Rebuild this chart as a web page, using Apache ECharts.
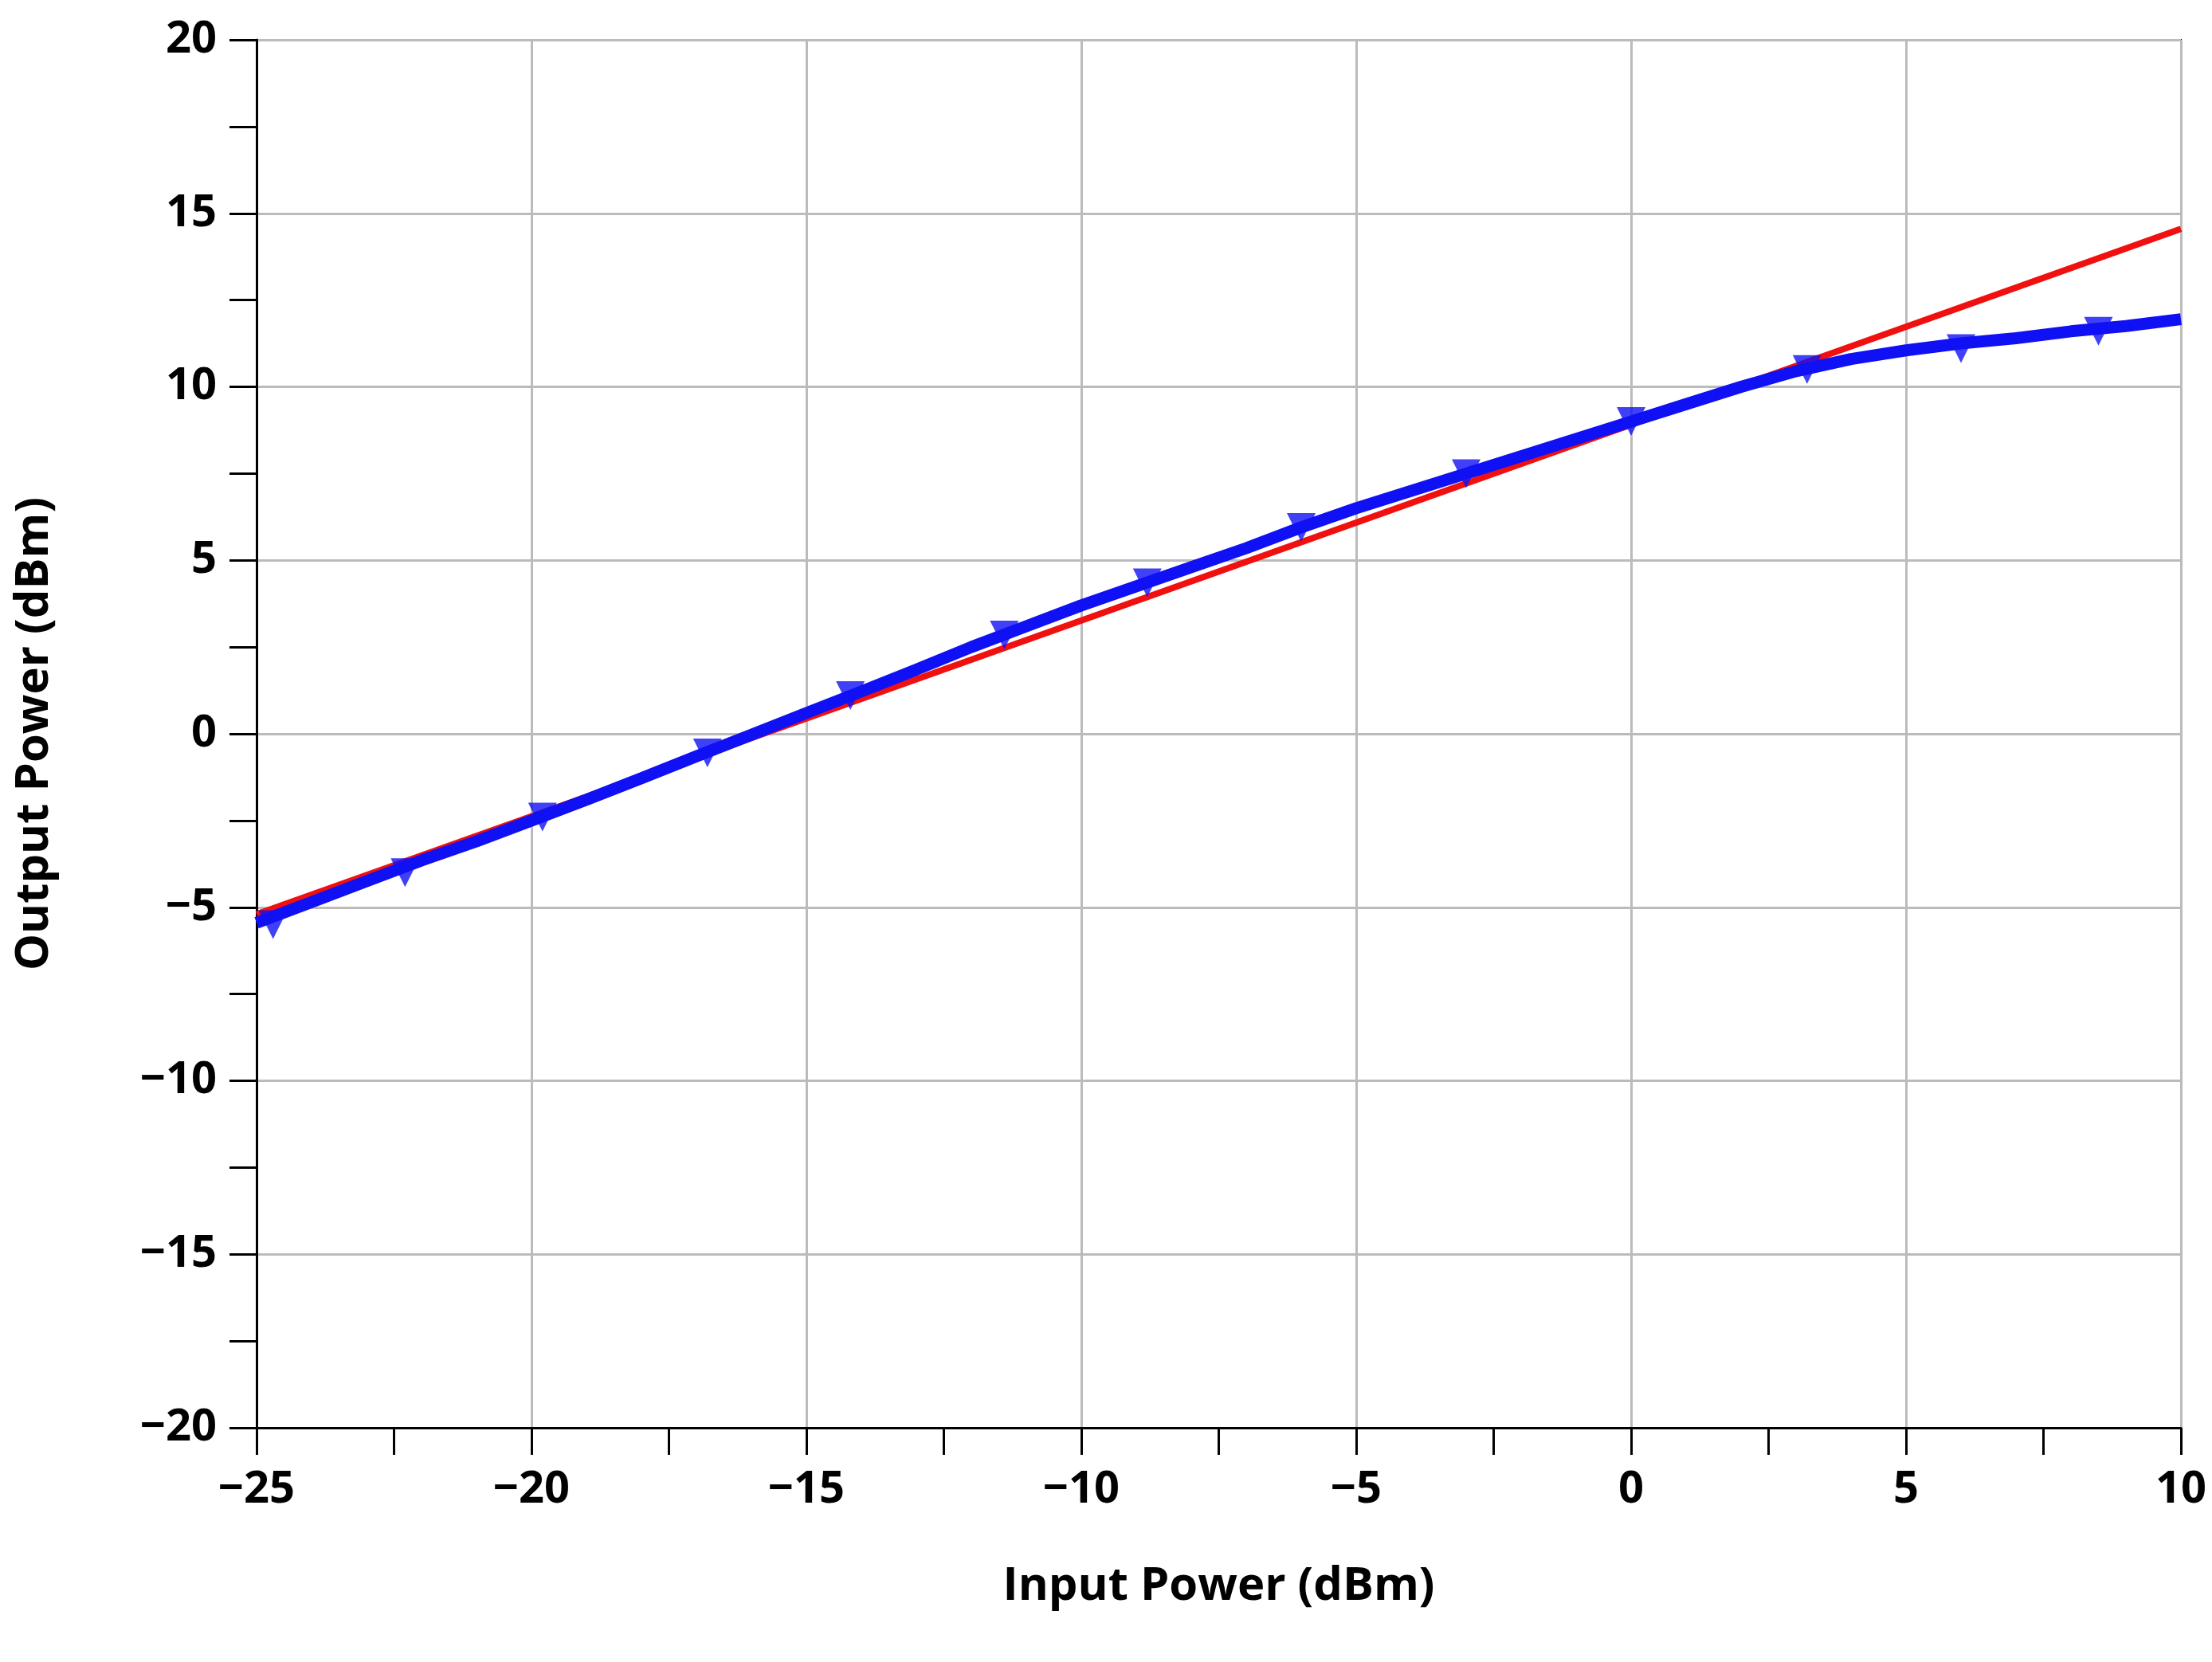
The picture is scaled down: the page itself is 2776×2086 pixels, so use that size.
<!DOCTYPE html>
<html><head><meta charset="utf-8">
<script src="https://cdn.jsdelivr.net/npm/echarts@6/dist/echarts.min.js"></script>
<style>html,body{margin:0;background:#fff}#c{width:2776px;height:2086px}</style>
</head><body><div id="c"></div>
<script>
// measured output vs input power (dBm)
const measX = [-25,-24,-23,-22,-21,-20,-19,-18,-17,-16,-15,-14,-13,-12,-11,-10,-9,-8,-7,-6,-5,-4,-3,-2,-1,0,1,2,3,4,5,6,7,8,9,10];
const measY = [-5.45,-4.85,-4.25,-3.65,-3.1,-2.5,-1.9,-1.28,-0.65,-0.03,0.6,1.22,1.85,2.5,3.1,3.7,4.25,4.8,5.35,5.95,6.5,7.0,7.5,8.0,8.5,9.0,9.5,10.0,10.45,10.8,11.05,11.25,11.4,11.6,11.75,11.95];
const markX = [-24.7,-22.3,-19.8,-16.8,-14.2,-11.4,-8.8,-6,-3,0,3.2,6,8.5];
const markY = [-5.5,-4.0,-2.4,-0.55,1.1,2.85,4.35,5.95,7.5,9.0,10.5,11.1,11.6];
// linear fit
const fitX = [-25, 10];
const fitY = [-5.2, 14.55];

const fmt = v => (v < 0 ? '\u2212' + (-v) : '' + v);
const lbl = {fontFamily: 'Open Sans', fontWeight: 'bold', fontSize: 56, color: '#000'};
const tick = {length: 34, lineStyle: {color: '#000', width: 3}};
const chart = echarts.init(document.getElementById('c'));
chart.setOption({
  animation: false,
  grid: {left: 322, right: 39, top: 50, bottom: 294, show: true, borderColor: '#000', borderWidth: 2},
  xAxis: {
    type: 'value', min: -25, max: 10, interval: 5,
    name: 'Input Power (dBm)', nameLocation: 'middle', nameGap: 170,
    nameTextStyle: {fontFamily: 'Open Sans', fontWeight: 'bold', fontSize: 58, color: '#000'},
    axisLine: {onZero: false, lineStyle: {color: '#000', width: 3}},
    axisTick: tick,
    minorTick: Object.assign({show: true, splitNumber: 2}, tick),
    axisLabel: Object.assign({formatter: fmt, margin: 50}, lbl),
    splitLine: {lineStyle: {color: '#bbb', width: 3}}
  },
  yAxis: {
    type: 'value', min: -20, max: 20, interval: 5,
    name: 'Output Power (dBm)', nameLocation: 'middle', nameGap: 250, nameRotate: 90,
    nameTextStyle: {fontFamily: 'Open Sans', fontWeight: 'bold', fontSize: 58, color: '#000'},
    axisLine: {onZero: false, lineStyle: {color: '#000', width: 3}},
    axisTick: tick,
    minorTick: Object.assign({show: true, splitNumber: 2}, tick),
    axisLabel: Object.assign({formatter: fmt, margin: 50}, lbl),
    splitLine: {lineStyle: {color: '#bbb', width: 3}}
  },
  series: [
    {type: 'line', data: fitX.map((x, i) => [x, fitY[i]]), showSymbol: false,
     lineStyle: {color: '#f01010', width: 8}, z: 2},
    {type: 'line', data: measX.map((x, i) => [x, measY[i]]), showSymbol: false,
     lineStyle: {color: '#1010f5', width: 15}, z: 3},
    {type: 'scatter', data: markX.map((x, i) => [x, markY[i]]), symbol: 'triangle', symbolRotate: 180,
     symbolSize: 36, itemStyle: {color: '#1010f5'}, z: 4}
  ]
});
</script></body></html>
